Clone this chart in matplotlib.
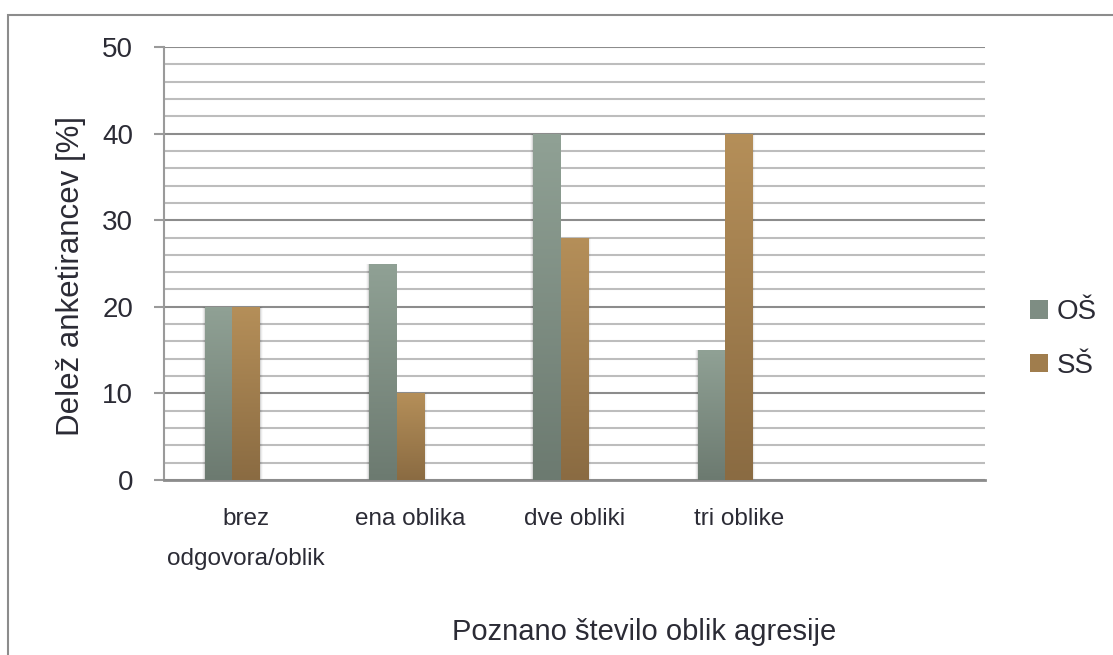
import numpy as np
import matplotlib
matplotlib.use("Agg")
import matplotlib.pyplot as plt
from matplotlib.colors import LinearSegmentedColormap
from matplotlib.patches import Rectangle, Patch
from matplotlib.ticker import MultipleLocator

# data
categories = ["brez\nodgovora/oblik", "ena oblika", "dve obliki", "tri oblike"]
n_slots = 5          # chart has one empty category slot at the end
series_names = ["OŠ", "SŠ"]
os_values = [20, 25, 40, 15]
ss_values = [20, 10, 28, 40]

# gradient colours (bottom -> top)
os_colors = ("#6c7a70", "#90a195")
ss_colors = ("#8a6b42", "#b58f59")
text_color = "#2b2b35"

plt.rcParams['font.family'] = ['Liberation Sans', 'DejaVu Sans']

fig = plt.figure(figsize=(11.13, 6.55), dpi=100)
ax = fig.add_axes([164 / 1113, 175 / 655, 821 / 1113, 433 / 655])

# group of three bar slots per category (third series is empty in the original)
width = 1 / 6
x = np.arange(len(categories))


def gradient_bars(xpos, vals, cols, label, side):
    bars = ax.bar(xpos, vals, width, color=cols[1], label=label, zorder=3,
                  linewidth=0)
    cmap = LinearSegmentedColormap.from_list(label, cols)
    grad = np.linspace(0, 1, 256).reshape(-1, 1)
    for b in bars:
        x0, y0 = b.get_x(), b.get_y()
        w, h = b.get_width(), b.get_height()
        # soft shadow on the outer side of the pair
        for i, a in enumerate([0.09, 0.05, 0.025]):
            sw = 0.006 * (i + 1)
            sx = x0 + w if side > 0 else x0 - sw
            ax.add_patch(Rectangle((sx, y0), sw, h, color="#000000",
                                   alpha=a, lw=0, zorder=2))
        im = ax.imshow(grad, extent=[x0, x0 + w, y0, y0 + h], origin="lower",
                       cmap=cmap, aspect="auto", zorder=4)
        im.set_clip_path(b)
    return bars


gradient_bars(x - width, os_values, os_colors, series_names[0], -1)
gradient_bars(x, ss_values, ss_colors, series_names[1], 1)

ax.set_xlim(-0.5, n_slots - 0.5)
ax.set_ylim(0, 50)
ax.set_aspect("auto")

ax.yaxis.set_major_locator(MultipleLocator(10))
ax.yaxis.set_minor_locator(MultipleLocator(2))
ax.grid(which="major", axis="y", color="#8c8c8c", lw=1.5, zorder=1)
ax.grid(which="minor", axis="y", color="#bdbdbd", lw=1.5, zorder=1)
ax.set_axisbelow(True)

ax.set_xticks(x)
ax.set_xticklabels(categories, fontsize=17.5, color=text_color,
                   linespacing=2.05, va="top")
ax.tick_params(axis="x", length=0, pad=20)
ax.tick_params(axis="y", which="major", length=7.2, width=1.5,
               color="#9a9a9a", labelsize=20, labelcolor=text_color, pad=15)
ax.tick_params(axis="y", which="minor", length=0)

for s in ["top", "right"]:
    ax.spines[s].set_visible(False)
ax.spines["left"].set_color("#9a9a9a")
ax.spines["left"].set_linewidth(1.5)
ax.spines["bottom"].set_color("#8c8c8c")
ax.spines["bottom"].set_linewidth(2)

ax.set_ylabel("Delež anketirancev [%]", fontsize=22.5, color=text_color)
ax.yaxis.set_label_coords(-0.095, 0.471)
ax.set_xlabel("Poznano število oblik agresije", fontsize=21, color=text_color)
ax.xaxis.set_label_coords(0.585, -0.319)

handles = [Patch(facecolor="#7e8d83", edgecolor="none"),
           Patch(facecolor="#a07d4d", edgecolor="none")]
leg = fig.legend(handles, series_names, loc="center left",
                 bbox_to_anchor=(1030 / 1113, 1 - 339 / 655),
                 frameon=False, fontsize=20, handlelength=0.64,
                 handleheight=0.64, handletextpad=0.32, labelspacing=1.0,
                 borderpad=0, borderaxespad=0)
for t in leg.get_texts():
    t.set_color(text_color)

# chart area border (cropped on the right and bottom)
fig.patches.append(Rectangle((8 / 1113, -0.05), 1.1, 1 - 15 / 655 + 0.05,
                             transform=fig.transFigure, fill=False,
                             edgecolor="#8c8c8c", lw=1.5))

fig.savefig("out.png", dpi=100)
